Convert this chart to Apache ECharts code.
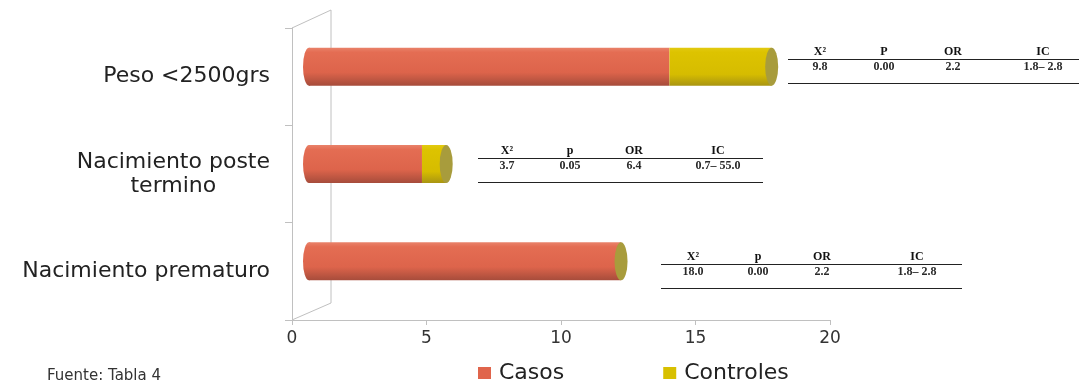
<!DOCTYPE html>
<html>
<head>
<meta charset="utf-8">
<script src="https://cdn.jsdelivr.net/npm/echarts@6/dist/echarts.min.js"></script>
<style>
html,body{margin:0;padding:0;background:#fff;}
#chart{width:1079px;height:381px;}
</style>
</head>
<body>
<div id="chart"></div>
<script>
// ---- data ----
const categories = ['Nacimiento prematuro', 'Nacimiento poste\ntermino', 'Peso <2500grs'];
const casos = [11.6, 4.2, 13.4];
const controles = [0, 0.9, 3.8];
const seriesNames = ['Casos', 'Controles'];
const xMin = 0, xMax = 20, xInterval = 5;

const statHeadersPeso = ['X\u00B2', 'P', 'OR', 'IC'];
const statValuesPeso = ['9.8', '0.00', '2.2', '1.8\u2013 2.8'];
const statHeadersPoste = ['X\u00B2', 'p', 'OR', 'IC'];
const statValuesPoste = ['3.7', '0.05', '6.4', '0.7\u2013 55.0'];
const statHeadersPrem = ['X\u00B2', 'p', 'OR', 'IC'];
const statValuesPrem = ['18.0', '0.00', '2.2', '1.8\u2013 2.8'];
const sourceNote = 'Fuente: Tabla 4';

// ---- styles / layout ----
const FONT = 'DejaVu Sans';
const orangeGrad = {type:'linear', x:0, y:0, x2:0, y2:1, colorStops:[
  {offset:0, color:'#E9826A'},{offset:0.12, color:'#E46D53'},{offset:0.65, color:'#DD644B'},{offset:1, color:'#A64C3B'}]};
const yellowGrad = {type:'linear', x:0, y:0, x2:0, y2:1, colorStops:[
  {offset:0, color:'#E2CA10'},{offset:0.12, color:'#DDC300'},{offset:0.7, color:'#D6BC00'},{offset:1, color:'#A99512'}]};
const capColor = '#A89C3C';
const axisColor = '#C0C0C0';

const totals = casos.map((v, i) => v + controles[i]);

function buildTable(x0, x1, yTop, cols, headers, values) {
  const els = [];
  els.push({type:'line', shape:{x1:x0, y1:yTop + 0.5, x2:x1, y2:yTop + 0.5}, style:{stroke:'#222', lineWidth:1}});
  els.push({type:'line', shape:{x1:x0, y1:yTop + 24.5, x2:x1, y2:yTop + 24.5}, style:{stroke:'#222', lineWidth:1}});
  headers.forEach((h, i) => {
    els.push({type:'text', x:cols[i], y:yTop - 7, style:{text:h, font:'bold 12px "Liberation Serif"', fill:'#111', align:'center', verticalAlign:'middle'}});
  });
  values.forEach((v, i) => {
    els.push({type:'text', x:cols[i], y:yTop + 8, style:{text:v, font:'bold 12px "Liberation Serif"', fill:'#2a2a2a', align:'center', verticalAlign:'middle'}});
  });
  return els;
}

const graphics = [].concat(
  // 3D back wall outline
  [{type:'polyline', shape:{points:[[292,28],[331,10],[331,303],[292,320]]}, style:{stroke:axisColor, lineWidth:1, fill:null}, z:0}],
  buildTable(788, 1079, 59, [820, 884, 953, 1043], statHeadersPeso, statValuesPeso),
  buildTable(478, 763, 158, [507, 570, 634, 718], statHeadersPoste, statValuesPoste),
  buildTable(661, 962, 264, [693, 758, 822, 917], statHeadersPrem, statValuesPrem),
  [{type:'text', left:47, top:369, style:{text:sourceNote, font:'15px "DejaVu Sans"', fill:'#333'}}]
);

const chart = echarts.init(document.getElementById('chart'), null, {renderer:'canvas'});
chart.setOption({
  animation:false,
  backgroundColor:'#fff',
  grid:[
    {left:292, right:249, top:28, bottom:61},
    {left:309, right:232, top:18, bottom:71}
  ],
  xAxis:[
    {gridIndex:0, type:'value', min:xMin, max:xMax, interval:xInterval,
     axisLine:{show:true, lineStyle:{color:axisColor}},
     axisTick:{show:true, length:5, lineStyle:{color:axisColor}},
     splitLine:{show:false},
     axisLabel:{fontFamily:FONT, fontSize:17, color:'#333', margin:10}},
    {gridIndex:1, type:'value', min:xMin, max:xMax, show:false, splitLine:{show:false}}
  ],
  yAxis:[
    {gridIndex:0, type:'category', data:categories,
     axisLine:{show:true, lineStyle:{color:axisColor}},
     axisTick:{show:true, length:7, lineStyle:{color:axisColor}},
     axisLabel:{fontFamily:FONT, fontSize:22, color:'#222', margin:22, lineHeight:24,
       formatter: v => v.indexOf('\n') >= 0 ? v.split('\n').map(s => '{c|' + s + '}').join('\n') : v,
       rich:{c:{align:'center', fontFamily:FONT, fontSize:22, color:'#222', lineHeight:24}}}},
    {gridIndex:1, type:'category', data:categories, show:false}
  ],
  legend:{
    data:[{name:seriesNames[0], itemStyle:{color:'#E0654C'}}, {name:seriesNames[1], itemStyle:{color:'#D8C000'}}],
    left:478, top:362, padding:0, itemWidth:13, itemHeight:12, itemGap:99, icon:'rect',
    textStyle:{fontFamily:FONT, fontSize:22, color:'#222', padding:[0,0,0,3]}
  },
  series:[
    {name:'leftcap', type:'scatter', xAxisIndex:1, yAxisIndex:1, z:1, silent:true,
     symbol:'circle', symbolSize:[12, 38],
     data: casos.map((v, i) => [0, i]),
     itemStyle:{color:orangeGrad, opacity:1}},
    {name:seriesNames[0], type:'bar', xAxisIndex:1, yAxisIndex:1, stack:'t', barWidth:38, z:2,
     data:casos, itemStyle:{color:orangeGrad}},
    {name:seriesNames[1], type:'bar', xAxisIndex:1, yAxisIndex:1, stack:'t', barWidth:38, z:2,
     data:controles, itemStyle:{color:yellowGrad}},
    {name:'rightcap', type:'scatter', xAxisIndex:1, yAxisIndex:1, z:3, silent:true,
     symbol:'circle', symbolSize:[13, 38],
     data: totals.map((v, i) => [v, i]),
     itemStyle:{color:capColor, opacity:1}}
  ],
  graphic:graphics
});
</script>
</body>
</html>
